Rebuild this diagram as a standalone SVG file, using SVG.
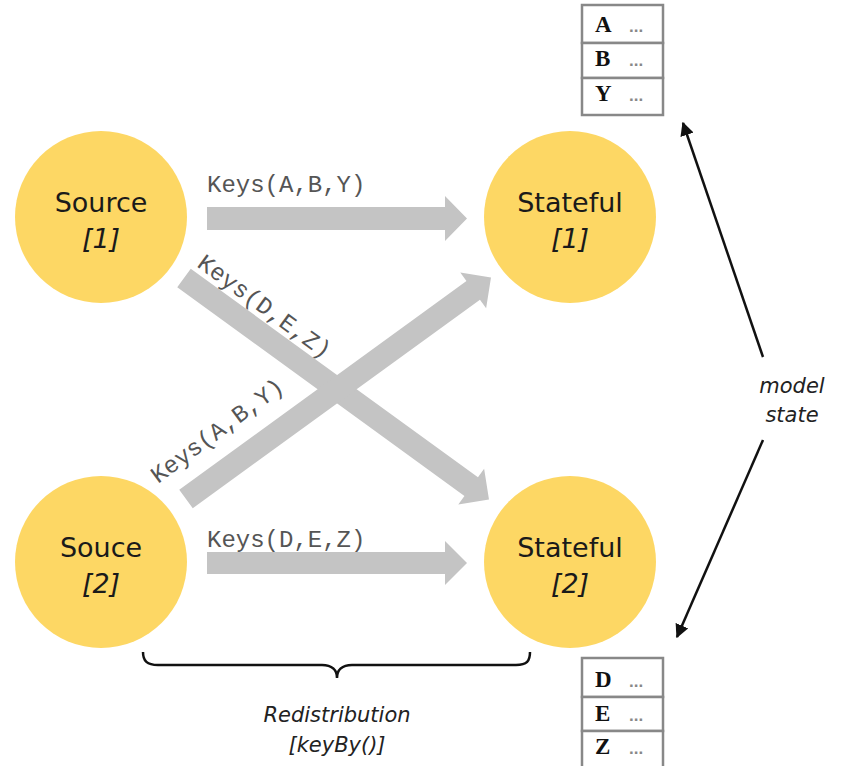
<svg xmlns="http://www.w3.org/2000/svg" width="842" height="766" viewBox="0 0 842 766">
<style>
.node{fill:#FDD764;}
.lbl{font-family:"DejaVu Sans",Verdana,sans-serif;font-size:27px;fill:#1a1a1a;text-anchor:middle;}
.it{font-style:italic;}
.keys{font-family:"Liberation Mono","Courier New",monospace;font-size:24px;fill:#555;}
.flow{fill:#C4C4C4;}
.cell{fill:#fff;stroke:#888;stroke-width:2.5;}
.letter{font-family:"Liberation Serif","Times New Roman",serif;font-size:23px;font-weight:bold;fill:#111;}
.dots{font-family:"Liberation Sans",Arial,sans-serif;font-size:17px;font-weight:bold;fill:#888;}
.note{font-family:"DejaVu Sans",Verdana,sans-serif;font-size:21px;font-style:italic;fill:#222;text-anchor:middle;}
.line{stroke:#111;stroke-width:2.5;fill:none;}
</style>
<defs>
<marker id="ah" viewBox="0 0 10 10" refX="9" refY="5" markerWidth="5.5" markerHeight="5.5" orient="auto" markerUnits="strokeWidth">
<path d="M0,0 L10,5 L0,10 Z" fill="#111"/>
</marker>
</defs>

<g id="connectors">
<path class="flow" d="M207,207 L445,207 L445,196 L467,218.5 L445,241 L445,230 L207,230 Z"/>
<path class="flow" d="M207,552 L445,552 L445,541 L467,563 L445,585 L445,574 L207,574 Z"/>
<path class="flow" transform="translate(184,278) rotate(36)" d="M0,-11.5 L355,-11.5 L355,-22 L377,0 L355,22 L355,11.5 L0,11.5 Z"/>
<path class="flow" transform="translate(186,499) rotate(-36)" d="M0,-11.5 L355,-11.5 L355,-22 L377,0 L355,22 L355,11.5 L0,11.5 Z"/>
<text class="keys" x="207" y="192">Keys(A,B,Y)</text>
<text class="keys" x="207" y="547">Keys(D,E,Z)</text>
<text class="keys" transform="translate(196,266) rotate(36)">Keys(D,E,Z)</text>
<text class="keys" transform="translate(158,484) rotate(-36.5)">Keys(A,B,Y)</text>
<line class="line" x1="763" y1="357" x2="683" y2="123" marker-end="url(#ah)"/>
<line class="line" x1="763" y1="440" x2="677" y2="637" marker-end="url(#ah)"/>
<path class="line" stroke-width="2" d="M143,652 C143,661 147,665 158,665 L322,665 C332,665 337,670 337,678 C337,670 342,665 352,665 L516,665 C527,665 530,661 530,652"/>
</g>

<g id="source1">
<circle class="node" cx="101" cy="217" r="86"/>
<text class="lbl" x="101" y="212">Source</text>
<text class="lbl it" x="101" y="248">[1]</text>
</g>
<g id="source2">
<circle class="node" cx="101" cy="562" r="86"/>
<text class="lbl" x="101" y="557">Souce</text>
<text class="lbl it" x="101" y="593">[2]</text>
</g>
<g id="stateful1">
<circle class="node" cx="570" cy="217" r="86"/>
<text class="lbl" x="570" y="212">Stateful</text>
<text class="lbl it" x="570" y="248">[1]</text>
</g>
<g id="stateful2">
<circle class="node" cx="570" cy="562" r="86"/>
<text class="lbl" x="570" y="557">Stateful</text>
<text class="lbl it" x="570" y="593">[2]</text>
</g>

<g id="state1">
<rect class="cell" x="582" y="5" width="81" height="38"/>
<rect class="cell" x="582" y="43" width="81" height="35"/>
<rect class="cell" x="582" y="78" width="81" height="37"/>
<text class="letter" x="595" y="32">A</text><text class="dots" x="629" y="32">...</text>
<text class="letter" x="595" y="66">B</text><text class="dots" x="629" y="66">...</text>
<text class="letter" x="595" y="101">Y</text><text class="dots" x="629" y="101">...</text>
</g>
<g id="state2">
<rect class="cell" x="582" y="658" width="81" height="39"/>
<rect class="cell" x="582" y="697" width="81" height="34"/>
<rect class="cell" x="582" y="731" width="81" height="40"/>
<text class="letter" x="595" y="687">D</text><text class="dots" x="629" y="687">...</text>
<text class="letter" x="595" y="721">E</text><text class="dots" x="629" y="721">...</text>
<text class="letter" x="595" y="754">Z</text><text class="dots" x="629" y="754">...</text>
</g>

<g id="modelState">
<text class="note" x="792" y="393">model</text>
<text class="note" x="792" y="422">state</text>
</g>
<g id="redistribution">
<text class="note" x="337" y="722">Redistribution</text>
<text class="note" x="337" y="752">[keyBy()]</text>
</g>
</svg>
